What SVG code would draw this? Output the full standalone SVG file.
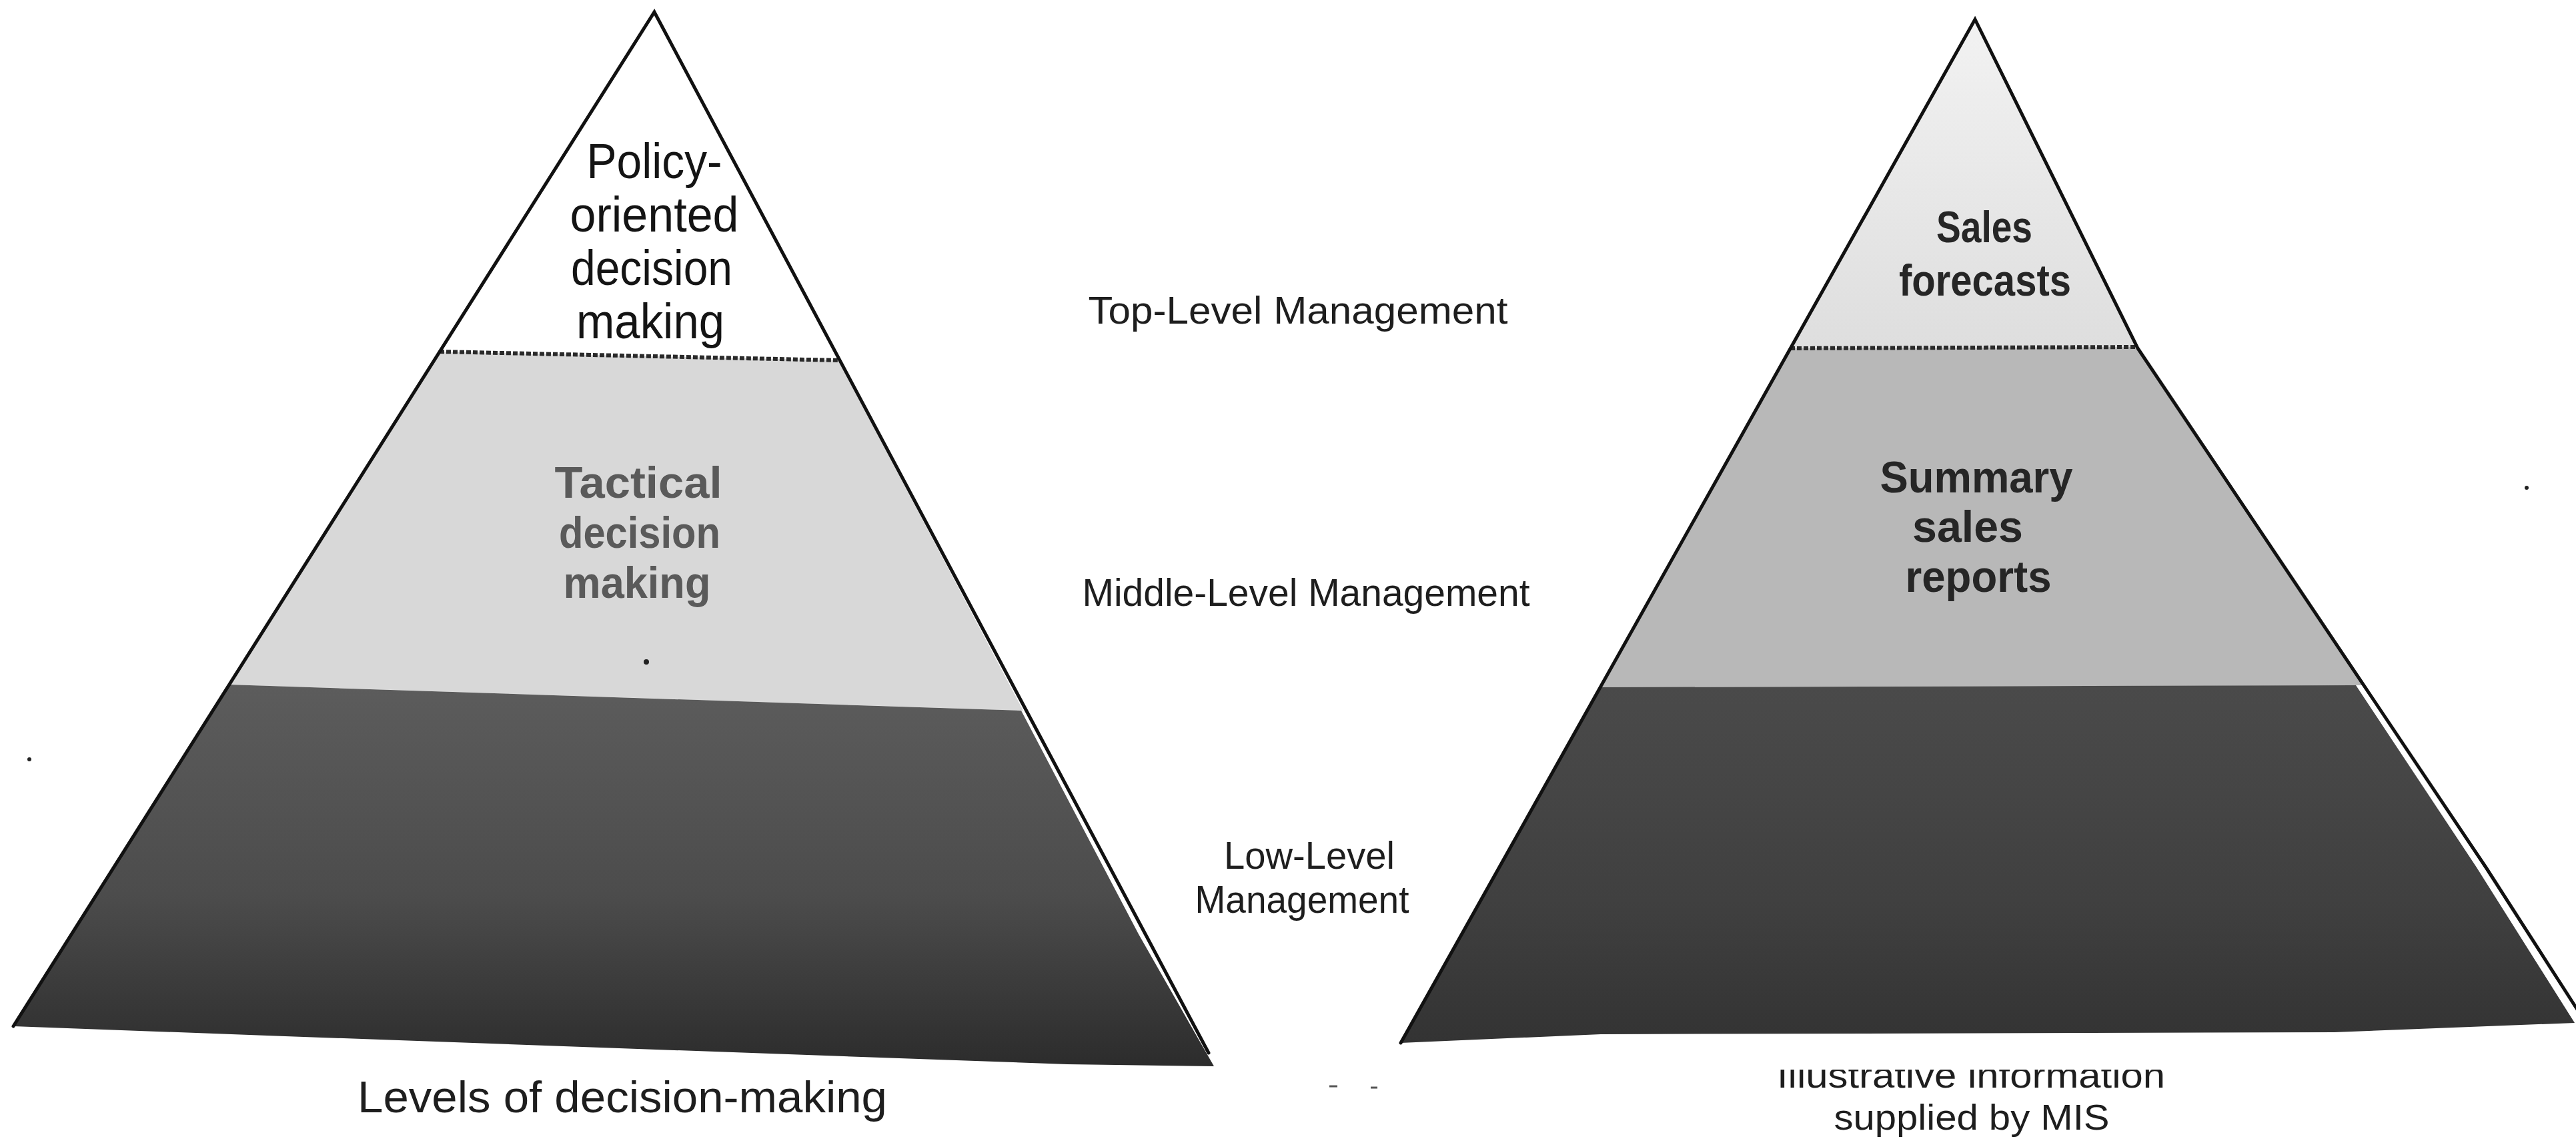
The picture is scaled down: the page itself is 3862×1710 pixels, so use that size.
<svg xmlns="http://www.w3.org/2000/svg" width="3862" height="1710" viewBox="0 0 3862 1710">
  <defs>
    <style>
      .edge { fill: none; stroke: #111; stroke-width: 5; stroke-linejoin: miter; stroke-linecap: round; }
      .divider { fill: none; stroke: #2a2a2a; stroke-width: 6; stroke-dasharray: 7 3; }
      .tier-label { font-family: "Liberation Sans", Arial, sans-serif; text-anchor: middle; }
      .policy { font-size: 74px; fill: #141414; }
      .tactical { font-size: 66px; font-weight: bold; fill: #5a5a5a; }
      .mis { font-size: 66px; font-weight: bold; fill: #262626; }
      .level { font-family: "Liberation Sans", Arial, sans-serif; font-size: 57px; fill: #1e1e1e; text-anchor: middle; }
      .caption { font-family: "Liberation Sans", Arial, sans-serif; fill: #1e1e1e; text-anchor: middle; }
      .speck { fill: #222; }
    </style>
    <linearGradient id="darkL" x1="0" y1="1026" x2="0" y2="1598" gradientUnits="userSpaceOnUse">
      <stop offset="0" stop-color="#5c5c5c"/>
      <stop offset="0.55" stop-color="#4c4c4c"/>
      <stop offset="1" stop-color="#2c2c2c"/>
    </linearGradient>
    <linearGradient id="darkR" x1="0" y1="1028" x2="0" y2="1563" gradientUnits="userSpaceOnUse">
      <stop offset="0" stop-color="#4a4a4a"/>
      <stop offset="0.6" stop-color="#404040"/>
      <stop offset="1" stop-color="#333333"/>
    </linearGradient>
    <linearGradient id="lightR" x1="0" y1="29" x2="0" y2="522" gradientUnits="userSpaceOnUse">
      <stop offset="0" stop-color="#f2f2f2"/>
      <stop offset="1" stop-color="#dedede"/>
    </linearGradient>
    <clipPath id="clipIllus">
      <rect x="2500" y="1603" width="900" height="100"/>
    </clipPath>
  </defs>

  <rect x="0" y="0" width="3862" height="1710" fill="#ffffff"/>

  <!-- LEFT PYRAMID: levels of decision-making -->
  <g id="left-pyramid">
    <g id="left-top">
      <polygon points="981,18 1257,540 659,527" fill="#ffffff"/>
      <text class="tier-label policy" x="981" y="267" textLength="203" lengthAdjust="spacingAndGlyphs">Policy-</text>
      <text class="tier-label policy" x="981" y="347" textLength="253" lengthAdjust="spacingAndGlyphs">oriented</text>
      <text class="tier-label policy" x="977" y="427" textLength="242" lengthAdjust="spacingAndGlyphs">decision</text>
      <text class="tier-label policy" x="975" y="507" textLength="222" lengthAdjust="spacingAndGlyphs">making</text>
    </g>
    <g id="left-middle">
      <polygon points="659,527 1257,540 1534,1065 344,1026" fill="#d8d8d8"/>
      <text class="tier-label tactical" x="957" y="746" textLength="251" lengthAdjust="spacingAndGlyphs">Tactical</text>
      <text class="tier-label tactical" x="959" y="821" textLength="242" lengthAdjust="spacingAndGlyphs">decision</text>
      <text class="tier-label tactical" x="955" y="896" textLength="221" lengthAdjust="spacingAndGlyphs">making</text>
      <circle class="speck" cx="969" cy="992" r="4"/>
    </g>
    <g id="left-bottom">
      <polygon points="344,1026 1531,1065 1707,1400 1820,1598 1600,1595 400,1552 20,1538" fill="url(#darkL)"/>
    </g>
    <line class="divider" x1="659" y1="527" x2="1257" y2="540"/>
    <path class="edge" d="M20,1538 L981,18 L1812,1578"/>
  </g>

  <!-- RIGHT PYRAMID: illustrative information supplied by MIS -->
  <g id="right-pyramid">
    <g id="right-top">
      <polygon points="2961,29 3205,520 2684,522" fill="url(#lightR)"/>
      <text class="tier-label mis" x="2975" y="363" textLength="144" lengthAdjust="spacingAndGlyphs">Sales</text>
      <text class="tier-label mis" x="2976" y="443" textLength="258" lengthAdjust="spacingAndGlyphs">forecasts</text>
    </g>
    <g id="right-middle">
      <polygon points="2684,522 3205,520 3546,1027 2399,1030" fill="#b8b8b8"/>
      <text class="tier-label mis" x="2963" y="738" textLength="289" lengthAdjust="spacingAndGlyphs">Summary</text>
      <text class="tier-label mis" x="2950" y="812" textLength="166" lengthAdjust="spacingAndGlyphs">sales</text>
      <text class="tier-label mis" x="2966" y="887" textLength="219" lengthAdjust="spacingAndGlyphs">reports</text>
    </g>
    <g id="right-bottom">
      <polygon points="2399,1030 3532,1027 3713,1300 3860,1533 3500,1547 2400,1550 2100,1563" fill="url(#darkR)"/>
    </g>
    <line class="divider" x1="2684" y1="522" x2="3205" y2="520"/>
    <path class="edge" d="M2100,1563 L2961,29 L3205,522 L3727,1300 L3880,1538"/>
  </g>

  <!-- Management level labels -->
  <g id="level-labels">
    <text class="level" x="1946" y="485" textLength="629" lengthAdjust="spacingAndGlyphs">Top-Level Management</text>
    <text class="level" x="1958" y="908" textLength="671" lengthAdjust="spacingAndGlyphs">Middle-Level Management</text>
    <text class="level" x="1963" y="1302" textLength="256" lengthAdjust="spacingAndGlyphs">Low-Level</text>
    <text class="level" x="1952" y="1368" textLength="321" lengthAdjust="spacingAndGlyphs">Management</text>
  </g>

  <!-- Captions -->
  <g id="captions">
    <text class="caption" x="933" y="1667" font-size="67" textLength="794" lengthAdjust="spacingAndGlyphs">Levels of decision-making</text>
    <text class="caption" x="2955" y="1630" font-size="54" textLength="582" lengthAdjust="spacingAndGlyphs" clip-path="url(#clipIllus)">Illustrative information</text>
    <text class="caption" x="2956" y="1693" font-size="54" textLength="413" lengthAdjust="spacingAndGlyphs">supplied by MIS</text>
  </g>

  <!-- scan specks -->
  <g id="specks">
    <circle class="speck" cx="44" cy="1138" r="3"/>
    <circle class="speck" cx="3788" cy="731" r="3"/>
    <line x1="1993" y1="1628" x2="2005" y2="1628" stroke="#555" stroke-width="3"/>
    <line x1="2055" y1="1630" x2="2065" y2="1630" stroke="#555" stroke-width="3"/>
  </g>
</svg>
